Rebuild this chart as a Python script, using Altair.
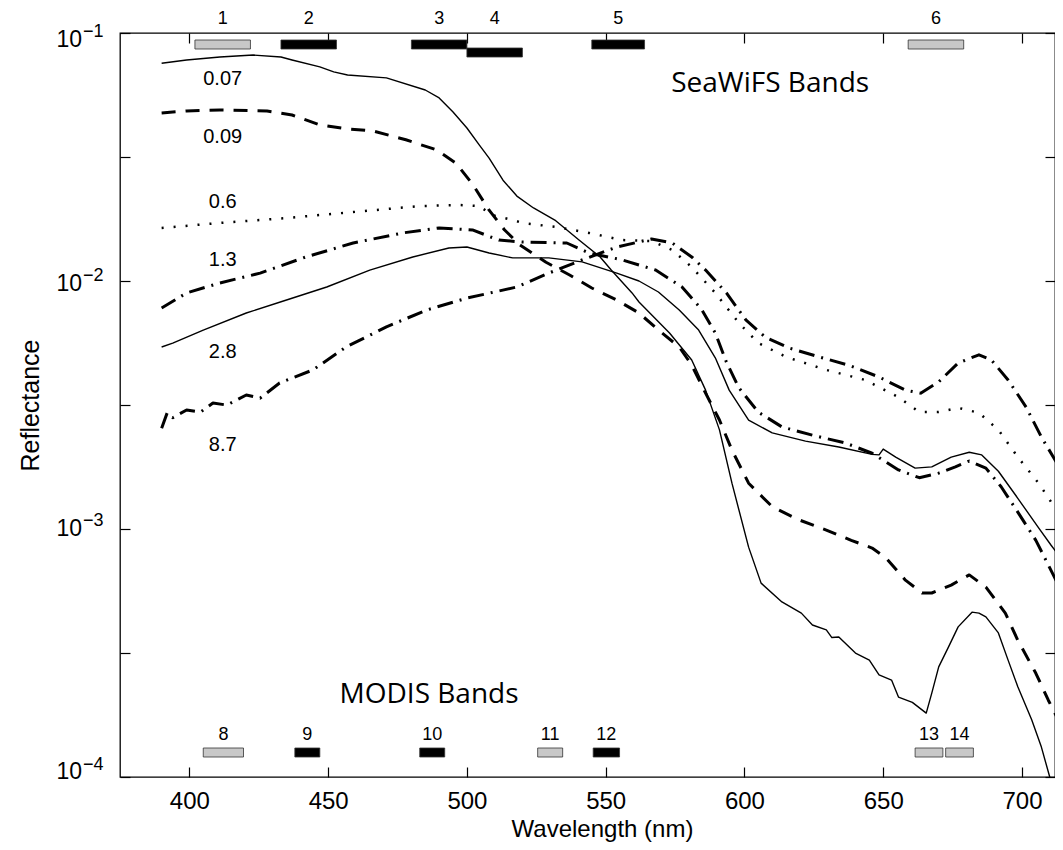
import altair as alt
import pandas as pd

# ---------------- data ----------------
x_ticks = [400, 450, 500, 550, 600, 650, 700]
y_ticks = [1e-4, 10 ** -3.5, 1e-3, 10 ** -2.5, 1e-2, 10 ** -1.5, 1e-1]
y_major = [1e-1, 1e-2, 1e-3, 1e-4]
y_exp = ["\u22121", "\u22122", "\u22123", "\u22124"]

wl_a = [390, 399, 411, 423, 433, 437, 447, 452, 457, 471, 485, 490, 495, 500, 504.5, 508, 513, 518, 524, 532,
        540.5, 548, 552, 559.5, 562, 573, 581, 586, 591, 595.5, 601.5, 606, 613.5, 620.5, 624.5, 629.5, 631.5, 634,
        640, 645, 648.5, 653, 655.5, 660.5, 665.5, 667.5, 670, 673.5, 677, 682, 684.5, 687, 691.5, 695, 698.5,
        703.5, 707, 710, 712]
r_a = [0.0755, 0.0778, 0.0800, 0.0815, 0.0800, 0.0778, 0.0730, 0.0697, 0.0677, 0.0659, 0.0589, 0.0547, 0.0480,
       0.0414, 0.0353, 0.0313, 0.0255, 0.0220, 0.0197, 0.0175, 0.0146, 0.0125, 0.01107, 0.00895, 0.00823, 0.00617,
       0.0048, 0.00363, 0.00251, 0.00153, 0.000845, 0.000605, 0.000508, 0.000458, 0.00041, 0.000392, 0.000365,
       0.000367, 0.000316, 0.000296, 0.000258, 0.000246, 0.00021, 0.0002, 0.000181, 0.000218, 0.000278, 0.000334,
       0.000403, 0.000462, 0.000458, 0.000442, 0.000381, 0.000296, 0.000231, 0.00017, 0.000132, 0.0001, 0.00008]

wl_b = [390, 399, 411, 428, 437, 447, 457, 466, 478, 489, 496, 502, 508, 513.5, 519, 528.5, 537, 545, 554, 562,
        569, 576.5, 581, 586, 591, 595.5, 601.5, 610, 619.5, 629.5, 638.5, 646, 651, 658, 664, 667.5, 674.5, 681,
        687, 694, 698.5, 705, 709.5, 714]
r_b = [0.0476, 0.0485, 0.0489, 0.0485, 0.0467, 0.0426, 0.041, 0.0403, 0.0371, 0.0338, 0.0299, 0.0246, 0.0193,
       0.0161, 0.014, 0.0119, 0.01057, 0.00937, 0.00838, 0.00743, 0.00634, 0.00542, 0.00458, 0.00353, 0.00275,
       0.00208, 0.00153, 0.00123, 0.00109, 0.00099, 0.0009, 0.000838, 0.000764, 0.000622, 0.000552, 0.000552,
       0.000594, 0.000653, 0.000583, 0.000458, 0.000356, 0.000262, 0.000204, 0.000162]

wl_c = [390, 411, 435, 459, 483, 497, 504.5, 509, 516.5, 520, 532, 544, 556, 566.5, 574, 581, 589.5, 598, 605,
        615, 629.5, 643.5, 655.5, 663, 670, 677, 684.5, 691.5, 698.5, 706, 712.5, 714]
r_c = [0.01637, 0.01714, 0.01795, 0.01897, 0.02005, 0.02025, 0.02005, 0.01845, 0.01762, 0.01714, 0.01652,
       0.01563, 0.01462, 0.01449, 0.01334, 0.01138, 0.00895, 0.00677, 0.00562, 0.00494, 0.00438, 0.00399, 0.0034,
       0.00296, 0.00296, 0.00308, 0.00294, 0.00251, 0.00195, 0.00153, 0.00119, 0.00113]

wl_d = [390, 399, 411, 425.5, 442, 459, 477, 490, 502, 511.5, 520, 536, 544, 556, 568, 577.5, 584.5, 589.5, 593.5,
        598, 605, 613.5, 624.5, 636.5, 646, 655.5, 663, 670, 676, 681, 687, 692.5, 698.5, 705, 709.5, 714]
r_d = [0.00778, 0.00895, 0.00982, 0.01076, 0.0125, 0.01423, 0.01563, 0.01637, 0.01607, 0.01462, 0.01436,
       0.01423, 0.01297, 0.01216, 0.01107, 0.00946, 0.00771, 0.00617, 0.00471, 0.00371, 0.00296, 0.00258,
       0.00239, 0.00222, 0.00202, 0.00173, 0.00161, 0.00168, 0.00178, 0.00188, 0.00176, 0.00148, 0.00117, 0.0009,
       0.000716, 0.000568]

wl_e = [390, 394, 405, 420.5, 435, 449.5, 465, 480.5, 493.5, 500, 508, 516.5, 529.5, 541.5, 554, 562, 569, 576.5,
        583.5, 589.5, 594.5, 601.5, 610, 622, 634, 646, 648.5, 650, 654.5, 661.5, 667.5, 674.5, 681, 685.5, 691.5,
        698.5, 706, 710.5, 714]
r_e = [0.00542, 0.00562, 0.00634, 0.00743, 0.00838, 0.00946, 0.01107, 0.0125, 0.01358, 0.01371, 0.01297,
       0.01239, 0.01239, 0.01194, 0.01076, 0.01, 0.00903, 0.00764, 0.00634, 0.0049, 0.00363, 0.00275, 0.00244,
       0.00226, 0.00214, 0.002, 0.00199, 0.0021, 0.00195, 0.00176, 0.00178, 0.00195, 0.00204, 0.00199, 0.00171,
       0.00133, 0.00101, 0.00086, 0.000764]

wl_f = [390, 392, 394, 399, 404, 408.5, 413.5, 420.5, 425.5, 432.5, 444.5, 456.5, 471, 485.5, 500, 518, 529.5,
        541.5, 554, 566.5, 574, 581, 586, 593.5, 600.5, 607.5, 616, 627, 637.5, 648.5, 658, 663.5, 670, 677, 684.5,
        689, 695, 701.5, 707, 712.5, 714]
r_f = [0.00255, 0.00294, 0.00281, 0.00302, 0.00296, 0.00322, 0.00316, 0.00347, 0.00337, 0.00388, 0.00438,
       0.00542, 0.00653, 0.00764, 0.00853, 0.00946, 0.01076, 0.01216, 0.01371, 0.01477, 0.01423, 0.0125, 0.01107,
       0.00895, 0.00697, 0.00594, 0.00537, 0.00494, 0.00458, 0.0041, 0.00363, 0.00353, 0.00392, 0.00467, 0.00504,
       0.0048, 0.00399, 0.0031, 0.00235, 0.00185, 0.00173]

curve_names = ["0.07", "0.09", "0.6", "1.3", "2.8", "8.7"]
curve_wl = [wl_a, wl_b, wl_c, wl_d, wl_e, wl_f]
curve_r = [r_a, r_b, r_c, r_d, r_e, r_f]

# curve labels (anchored in data coordinates)
label_text = ["0.07", "0.09", "0.6", "1.3", "2.8", "8.7"]
label_wl = [412, 412, 412, 412, 412, 412]
label_r = [0.0653, 0.0381, 0.0208, 0.0122, 0.00518, 0.00218]

seawifs_band = ["1", "2", "3", "4", "5", "6"]
seawifs_lo = [402, 433, 480, 500, 545, 659]
seawifs_hi = [422, 453, 500, 520, 564, 679]
seawifs_shaded = ["gray", "black", "black", "black", "black", "gray"]

modis_band = ["8", "9", "10", "11", "12", "13", "14"]
modis_lo = [405, 438, 483, 525.5, 545.5, 661.5, 672.5]
modis_hi = [419.5, 447, 492, 534.5, 555, 671.5, 682.5]
modis_shaded = ["gray", "black", "black", "gray", "black", "gray", "gray"]

note_text = ["SeaWiFS Bands", "MODIS Bands"]
note_wl = [573.6, 454.1]
note_r = [0.0578, 0.000199]

# ---------------- chart ----------------
FONT = "Liberation Sans"
W, H = 935, 744
xs = alt.Scale(domain=[375, 711.9], nice=False, zero=False)
ys = alt.Scale(type="log", domain=[1e-4, 1e-1], nice=False)

styles = {
    "0.07": dict(strokeWidth=1.4),
    "0.09": dict(strokeWidth=3, strokeDash=[14, 10]),
    "0.6": dict(strokeWidth=2.5, strokeDash=[2, 10]),
    "1.3": dict(strokeWidth=3, strokeDash=[16, 7, 2, 7]),
    "2.8": dict(strokeWidth=1.4),
    "8.7": dict(strokeWidth=3, strokeDash=[16, 7, 2, 7]),
}

layers = []
for i, (name, wl, rr) in enumerate(zip(curve_names, curve_wl, curve_r)):
    df = pd.DataFrame({"wl": wl, "R": rr})
    if i == 0:
        xax = alt.Axis(orient="bottom", values=x_ticks, tickSize=10, offset=-10, domain=False, grid=False,
                       labelFont=FONT, labelFontSize=24, labelColor="black", labelPadding=12,
                       tickColor="black", tickWidth=1.2, title="Wavelength (nm)", titleFont=FONT,
                       titleFontSize=24, titleFontWeight="normal", titleColor="black",
                       titleBaseline="middle", titleAlign="center", titleX=482, titleY=62)
        yax = alt.Axis(orient="left", values=y_ticks, tickSize=10, offset=-10, domain=False, grid=False,
                       labels=False, tickColor="black", tickWidth=1.2, title="Reflectance", titleFont=FONT,
                       titleFontSize=25, titleFontWeight="normal", titleColor="black", titleAngle=270,
                       titleBaseline="middle", titleAlign="center", titleX=-100, titleY=H / 2)
    else:
        xax = None
        yax = None
    layers.append(
        alt.Chart(df).mark_line(color="black", clip=True, strokeJoin="round", **styles[name]).encode(
            x=alt.X("wl:Q", scale=xs, axis=xax),
            y=alt.Y("R:Q", scale=ys, axis=yax),
        )
    )

# curve labels; this layer also carries the mirrored top/right tick axes
lab_df = pd.DataFrame({"wl": label_wl, "R": label_r, "label": label_text})
layers.append(
    alt.Chart(lab_df).mark_text(font=FONT, fontSize=20, color="black", baseline="middle").encode(
        x=alt.X("wl:Q", scale=xs, axis=alt.Axis(orient="top", values=x_ticks, tickSize=10, offset=-10,
                                               domain=False, grid=False, labels=False, tickColor="black",
                                               tickWidth=1.2, title=None)),
        y=alt.Y("R:Q", scale=ys, axis=alt.Axis(orient="right", values=y_ticks, tickSize=10, offset=-10,
                                              domain=False, grid=False, labels=False, tickColor="black",
                                              tickWidth=1.2, title=None)),
        text="label:N",
    )
)

# band boxes
fill_scale = alt.Scale(domain=["gray", "black"], range=["#c8c8c8", "#000000"])
sea_df = pd.DataFrame({"band": seawifs_band, "lo": seawifs_lo, "hi": seawifs_hi, "kind": seawifs_shaded})
mod_df = pd.DataFrame({"band": modis_band, "lo": modis_lo, "hi": modis_hi, "kind": modis_shaded})

sea_main = alt.Chart(sea_df).transform_filter("datum.band != '4'").mark_rect(
    stroke="#333333", strokeWidth=0.8).encode(
    x=alt.X("lo:Q", scale=xs, axis=None), x2="hi:Q",
    y=alt.value(7), y2=alt.value(16),
    fill=alt.Fill("kind:N", scale=fill_scale, legend=None))
sea_low = alt.Chart(sea_df).transform_filter("datum.band == '4'").mark_rect(
    stroke="#333333", strokeWidth=0.8).encode(
    x=alt.X("lo:Q", scale=xs, axis=None), x2="hi:Q",
    y=alt.value(15), y2=alt.value(24),
    fill=alt.Fill("kind:N", scale=fill_scale, legend=None))
sea_txt = alt.Chart(sea_df).transform_calculate(mid="(datum.lo + datum.hi) / 2").mark_text(
    font=FONT, fontSize=18, color="black", baseline="middle").encode(
    x=alt.X("mid:Q", scale=xs, axis=None), y=alt.value(-14), text="band:N")

mod_box = alt.Chart(mod_df).mark_rect(stroke="#333333", strokeWidth=0.8).encode(
    x=alt.X("lo:Q", scale=xs, axis=None), x2="hi:Q",
    y=alt.value(715), y2=alt.value(724),
    fill=alt.Fill("kind:N", scale=fill_scale, legend=None))
mod_txt = alt.Chart(mod_df).transform_calculate(mid="(datum.lo + datum.hi) / 2").mark_text(
    font=FONT, fontSize=18, color="black", baseline="middle").encode(
    x=alt.X("mid:Q", scale=xs, axis=None), y=alt.value(702), text="band:N")

layers += [sea_main, sea_low, sea_txt, mod_box, mod_txt]

# SeaWiFS / MODIS headings
note_df = pd.DataFrame({"wl": note_wl, "R": note_r, "t": note_text})
layers.append(
    alt.Chart(note_df).mark_text(font="Open Sans", fontSize=28, color="black", align="left",
                                 baseline="alphabetic").encode(
        x=alt.X("wl:Q", scale=xs, axis=None), y=alt.Y("R:Q", scale=ys, axis=None), text="t:N")
)

# y tick labels as 10 with superscript exponent
ten_dy = [7, 3, 0, -5]
exp_dy = [-1, -5, -8, -12]
for v, e, d1, d2 in zip(y_major, y_exp, ten_dy, exp_dy):
    tdf = pd.DataFrame({"R": [v], "e": [e]})
    layers.append(
        alt.Chart(tdf).mark_text(font=FONT, fontSize=23, color="black", align="right", baseline="middle",
                                 dy=d1).encode(
            x=alt.value(-38), y=alt.Y("R:Q", scale=ys, axis=None), text=alt.value("10"))
    )
    layers.append(
        alt.Chart(tdf).mark_text(font=FONT, fontSize=18, color="black", align="left", baseline="middle",
                                 dy=d2).encode(
            x=alt.value(-37), y=alt.Y("R:Q", scale=ys, axis=None), text="e:N")
    )

chart = alt.layer(*layers).resolve_axis(x="independent", y="independent").properties(
    width=W, height=H,
    autosize=alt.AutoSizeParams(type="none"),
    padding={"left": 112, "top": 25, "right": 0, "bottom": 65},
).configure_view(stroke="black", strokeWidth=1.3)

chart.save("out.html", embed_options={"renderer": "svg", "actions": False})
